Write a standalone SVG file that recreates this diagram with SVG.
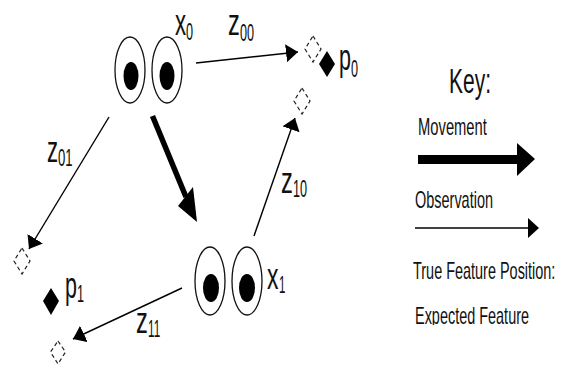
<svg xmlns="http://www.w3.org/2000/svg" width="569" height="365" viewBox="0 0 569 365">
<style>
text{font-family:"Liberation Sans",Arial,sans-serif;fill:#111}
.m{font-size:37px}.s{font-size:23px}.k{font-size:23px}
.eye{fill:#fff;stroke:#111;stroke-width:1.3}.pupil{fill:#000}
.exp{fill:none;stroke:#222;stroke-width:1.2;stroke-dasharray:4 3}.tru{fill:#000}
.thin{stroke:#000;stroke-width:1.4;fill:none}
</style>
<defs>
<marker id="h" markerUnits="userSpaceOnUse" markerWidth="13" markerHeight="18" refX="12" refY="9" orient="auto"><path d="M0 0L12 9L0 18z" fill="#000"/></marker>
</defs>
<rect width="569" height="365" fill="#fff"/>
<g id="connectors">
<line class="thin" x1="196" y1="63" x2="298" y2="52" marker-end="url(#h)"/>
<line class="thin" x1="109" y1="117" x2="29" y2="249" marker-end="url(#h)"/>
<line class="thin" x1="254" y1="236" x2="295" y2="118" marker-end="url(#h)"/>
<line class="thin" x1="182" y1="288" x2="73" y2="339" marker-end="url(#h)"/>
<path d="M152.500 116L186 197" stroke="#000" stroke-width="5.500" fill="none"/>
<path d="M197 222L193 187L178 206z" fill="#000"/>
</g>
<g id="x0">
<ellipse class="eye" cx="130" cy="70" rx="15" ry="33"/><ellipse class="pupil" cx="131" cy="76" rx="7.500" ry="14"/>
<ellipse class="eye" cx="167" cy="70" rx="15" ry="33"/><ellipse class="pupil" cx="167" cy="76" rx="7.500" ry="14"/>
<text class="m" transform="translate(175 35) scale(.6 1)">x</text><text class="s" transform="translate(186 40) scale(.55 1)">0</text>
</g>
<g id="x1">
<ellipse class="eye" cx="210" cy="281" rx="15" ry="34"/><ellipse class="pupil" cx="211" cy="288" rx="8" ry="14"/>
<ellipse class="eye" cx="247" cy="281" rx="15" ry="34"/><ellipse class="pupil" cx="247" cy="288" rx="8" ry="14"/>
<text class="m" transform="translate(267 289) scale(.62 1)">x</text><text class="s" transform="translate(279 293) scale(.5 1)">1</text>
</g>
<g id="p0">
<path class="exp" d="M313 36L321 49L313 62L305 49z"/><path class="exp" d="M302 88L310 101L302 114L294 101z"/>
<path class="tru" d="M327 51L335 64L327 77L319 64z"/>
<text class="m" transform="translate(339 70) scale(.58 1)">p</text><text class="s" transform="translate(351 77) scale(.55 1)">0</text>
</g>
<g id="p1">
<path class="exp" d="M22 248L30 261L22 274L14 261z"/><path class="exp" d="M58 341L65.500 352L58 364L50.500 352z"/>
<path class="tru" d="M51 288L59 301L51 315L43 301z"/>
<text class="m" transform="translate(65 298) scale(.58 1)">p</text><text class="s" transform="translate(77 302) scale(.55 1)">1</text>
</g>
<g id="labels">
<text class="m" transform="translate(228 35) scale(.64 1)">z</text><text class="s" transform="translate(240 41) scale(.55 1)">00</text>
<text class="m" transform="translate(47 162) scale(.6 1)">z</text><text class="s" transform="translate(58 166) scale(.57 1)">01</text>
<text class="m" transform="translate(281 193) scale(.64 1)">z</text><text class="s" transform="translate(293 197) scale(.55 1)">10</text>
<text class="m" transform="translate(136 333) scale(.64 1)">z</text><text class="s" transform="translate(148 337) scale(.51 1)">11</text>
</g>
<g id="key">
<text transform="translate(449 93) scale(.6 1)" style="font-size:35px">Key:</text>
<text class="k" transform="translate(418 135) scale(.642 1)">Movement</text>
<path d="M418 155H517V143L535 159L517 176V164H418z" fill="#000"/>
<text class="k" transform="translate(415 208) scale(.629 1)">Observation</text>
<path d="M415 228H530" stroke="#000" stroke-width="1.500"/><path d="M528 218L539 228L528 238z" fill="#000"/>
<text class="k" transform="translate(413 279) scale(.628 1)">True Feature Position:</text>
<text class="k" transform="translate(415 324) scale(.628 1)">Expected Feature</text>
<rect x="410" y="325" width="130" height="12" fill="#fff"/>
</g>
</svg>
